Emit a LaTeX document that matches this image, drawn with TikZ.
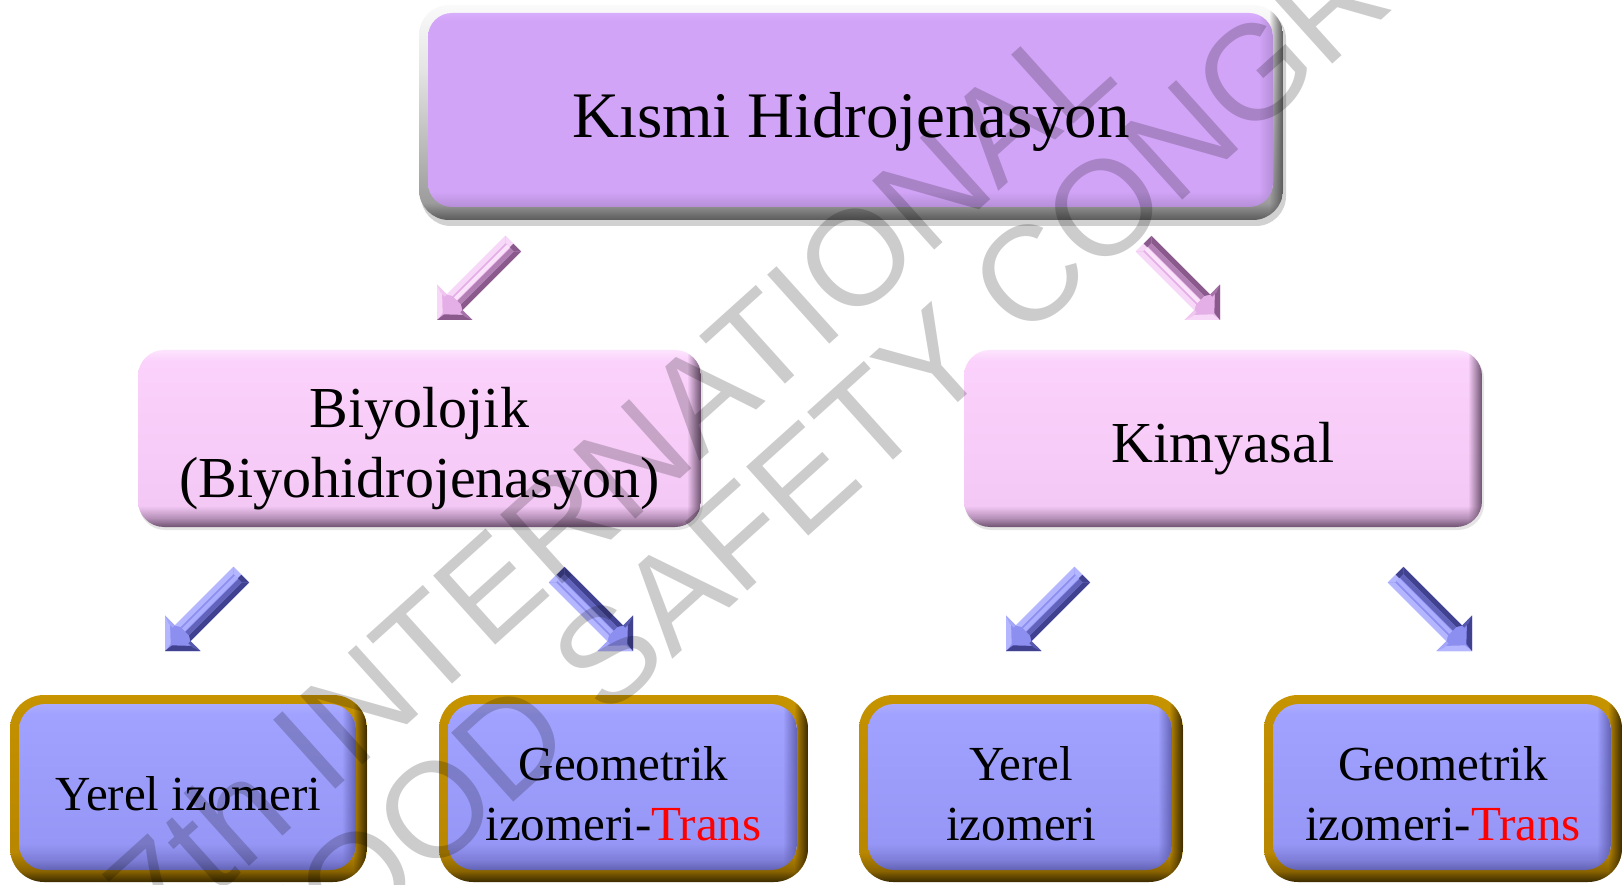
\documentclass[tikz,border=0pt]{standalone}
\usepackage{fontspec}
\setmainfont{Liberation Serif}
\newfontfamily\wmfont{Liberation Sans}
\usetikzlibrary{fadings}

% colours
\definecolor{tfD}{HTML}{5A5A5A}\definecolor{tfM}{HTML}{9C9C9C}
\definecolor{tfL}{HTML}{E4E4E4}\definecolor{tfW}{HTML}{FAFAFA}
\definecolor{tpD}{HTML}{B48ED6}\definecolor{tpF}{HTML}{D2A4F8}\definecolor{tpT}{HTML}{D8ADFC}
\definecolor{mD}{HTML}{6E5270}\definecolor{mM}{HTML}{B48FB6}\definecolor{mF}{HTML}{F4C8F5}
\definecolor{mF2}{HTML}{FBD2FC}\definecolor{mT}{HTML}{FDE4FE}
\definecolor{gD}{HTML}{3B2A00}\definecolor{gM}{HTML}{8A6400}\definecolor{gF}{HTML}{B98700}
\definecolor{gF2}{HTML}{C39000}\definecolor{gT}{HTML}{C89500}
\definecolor{bD}{HTML}{6262B4}\definecolor{bM}{HTML}{7E7ED8}\definecolor{bF}{HTML}{9696F6}
\definecolor{bF2}{HTML}{A1A2FF}\definecolor{bT}{HTML}{ABACFF}
\definecolor{paL}{HTML}{F8D8F8}\definecolor{paF}{HTML}{E4AEE6}\definecolor{paD}{HTML}{8A5A8C}\definecolor{paH}{HTML}{FBE4FB}
\definecolor{baL}{HTML}{B4B6FF}\definecolor{baF}{HTML}{8C8EF0}\definecolor{baD}{HTML}{404290}\definecolor{baH}{HTML}{ACAEFF}

\pgfdeclareverticalshading{topframe}{100bp}{color(0bp)=(tfD); color(25bp)=(tfD); color(29bp)=(tfM); color(60bp)=(tfL); color(75bp)=(tfW); color(100bp)=(tfW)}
\pgfdeclareverticalshading{topface}{100bp}{color(0bp)=(tpD); color(25bp)=(tpD); color(29bp)=(tpF); color(73bp)=(tpF); color(75bp)=(tpT); color(100bp)=(tpT)}
\pgfdeclareverticalshading{midbox}{100bp}{color(0bp)=(mD); color(25bp)=(mD); color(27.5bp)=(mM); color(31bp)=(mF); color(72bp)=(mF2); color(75bp)=(mT); color(100bp)=(mT)}
\pgfdeclareverticalshading{goldframe}{100bp}{color(0bp)=(gD); color(25bp)=(gD); color(28bp)=(gM); color(33bp)=(gF); color(70bp)=(gF2); color(75bp)=(gT); color(100bp)=(gT)}
\pgfdeclareverticalshading{blueface}{100bp}{color(0bp)=(bD); color(25bp)=(bD); color(28bp)=(bM); color(33bp)=(bF); color(72bp)=(bF2); color(75bp)=(bT); color(100bp)=(bT)}

\tikzfading[name=rfade, left color=transparent!100, right color=transparent!0]

% rounded box with vertical bevel shading and a darkened right edge
\newcommand\lvlbox[7]{%
  \begin{scope}
    \path[rounded corners=#5pt, clip] (#1,#2) rectangle (#3,#4);
    \shade[shading=#6] (#1,#2) rectangle (#3,#4);
    \fill[#7, path fading=rfade] (#3-14,#2) rectangle (#3,#4);
  \end{scope}}

\tikzset{
  ttop/.style={font=\fontsize{65}{70}\selectfont, inner sep=0pt, anchor=base},
  tmid/.style={font=\fontsize{58}{64}\selectfont, inner sep=0pt, anchor=base},
  tbot/.style={font=\fontsize{49}{55}\selectfont, inner sep=0pt, anchor=base},
  wm/.style={font=\wmfont\fontsize{135}{140}\selectfont, text=black, text opacity=0.2, inner sep=0pt, rotate=42},
  pics/barrow/.style n args={4}{code={
    \fill[#2] (0,0) -- (25,-25) -- (25,-11) -- (108,-11) -- (108,11) -- (25,11) -- (25,25) -- cycle;
    \fill[#1] (25,-11) -- (108,-11) -- (103,-6) -- (28,-6) -- cycle;
    \fill[#3] (25,11) -- (108,11) -- (103,6) -- (28,6) -- cycle;
    \fill[#3!55!#2] (28,1) -- (103,1) -- (103,6) -- (28,6) -- cycle;
    \fill[#4] (28,-4) -- (103,-4) -- (103,0) -- (28,0) -- cycle;
    \fill[#1] (0,0) -- (25,-25) -- (25,-18) -- (9,-1) -- cycle;
    \fill[#3] (0,0) -- (25,25) -- (25,18) -- (9,1) -- cycle;
    \fill[#1!60!#2] (25,-25) -- (25,-11) -- (22,-11) -- (22,-17) -- cycle;
    \fill[#3!70!#2] (25,25) -- (25,11) -- (22,11) -- (22,17) -- cycle;
    \fill[#1] (108,-11) -- (108,0) -- (103,0) -- (103,-6) -- cycle;
    \fill[#3] (108,11) -- (108,0) -- (103,0) -- (103,6) -- cycle;
  }}
}

\begin{document}
\begin{tikzpicture}[x=1pt, y=-1pt]
\useasboundingbox (0,0) rectangle (1623,885);
\clip (0,0) rectangle (1623,885);
\fill[white] (0,0) rectangle (1623,885);

% ---------- top box ----------
\fill[black, opacity=0.18, rounded corners=30pt] (421,9) rectangle (1286,226);
\lvlbox{419}{5}{1283}{220}{30}{topframe}{tfD}
\lvlbox{428}{13}{1273}{207}{24}{topface}{tpD}
\node[ttop] (khtxt) at (851,138) {Kısmi Hidrojenasyon};

% ---------- middle boxes ----------
\fill[black, opacity=0.10, rounded corners=26pt] (139,353) rectangle (703,530);
\lvlbox{138}{350}{701}{527}{26}{midbox}{mD}
\node[tmid] (bioa) at (419.5,427) {Biyolojik};
\node[tmid] (biob) at (419.5,497) {(Biyohidrojenasyon)};

\fill[black, opacity=0.10, rounded corners=26pt] (965,353) rectangle (1484,530);
\lvlbox{964}{350}{1482}{527}{26}{midbox}{mD}
\node[tmid] (kim) at (1223,462) {Kimyasal};

% ---------- bottom boxes ----------
\lvlbox{10}{695}{367}{882}{34}{goldframe}{gD}
\lvlbox{19}{704}{356}{870}{26}{blueface}{bD}
\node[tbot] (ya) at (188.5,810) {Yerel izomeri};

\lvlbox{439}{695}{808}{882}{34}{goldframe}{gD}
\lvlbox{448}{704}{797}{870}{26}{blueface}{bD}
\node[tbot] (ga) at (623.5,780) {Geometrik};
\node[tbot] (gb) at (623.5,840) {izomeri-\textcolor{red}{Trans}};

\lvlbox{859}{695}{1183}{882}{34}{goldframe}{gD}
\lvlbox{868}{704}{1172}{870}{26}{blueface}{bD}
\node[tbot] (yb) at (1021,780) {Yerel};
\node[tbot] (yc) at (1021,840) {izomeri};

\lvlbox{1264}{695}{1622}{882}{34}{goldframe}{gD}
\lvlbox{1273}{704}{1611}{870}{26}{blueface}{bD}
\node[tbot] (gc) at (1443,780) {Geometrik};
\node[tbot] (gd) at (1443,840) {izomeri-\textcolor{red}{Trans}};

% ---------- arrows ----------
\coordinate (p1) at (437,320);
\coordinate (p2) at (1220,320);
\coordinate (b1) at (165,651);
\coordinate (b2) at (633,651);
\coordinate (b3) at (1006,651);
\coordinate (b4) at (1472,651);
\pic[rotate=45]  at (p1) {barrow={paL}{paF}{paD}{paH}};
\pic[rotate=135] at (p2) {barrow={paL}{paF}{paD}{paH}};
\pic[rotate=45]  at (b1) {barrow={baL}{baF}{baD}{baH}};
\pic[rotate=135] at (b2) {barrow={baL}{baF}{baD}{baH}};
\pic[rotate=45]  at (b3) {barrow={baL}{baF}{baD}{baH}};
\pic[rotate=135] at (b4) {barrow={baL}{baF}{baD}{baH}};

% ---------- watermark ----------
\node[wm] (wm1) at (608,479) {7th INTERNATIONAL};
\node[wm] (wm2) at (912,381) {FOOD SAFETY CONGRESS};
\end{tikzpicture}
\end{document}
